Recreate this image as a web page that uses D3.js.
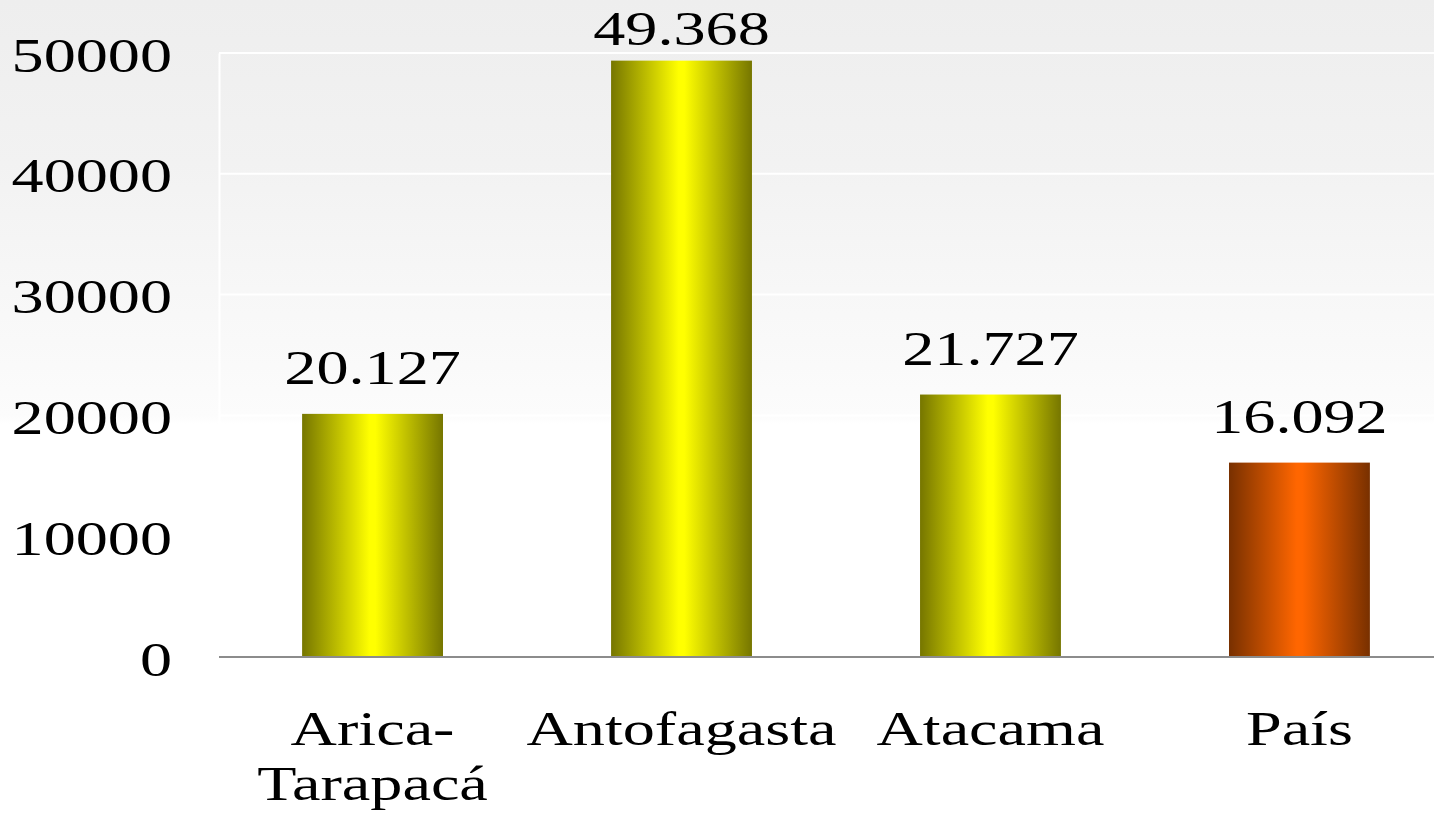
<!DOCTYPE html>
<html>
<head>
<meta charset="utf-8">
<script src="https://cdn.jsdelivr.net/npm/d3@7"></script>
<style>
  body { margin: 0; background: #fff; }
  text { font-family: "Liberation Serif", "Times New Roman", serif; fill: #000; }
</style>
</head>
<body>
<div id="chart"></div>
<script>
var categories = ['Arica-Tarapacá', 'Antofagasta', 'Atacama', 'País'];
var categoryLines = [['Arica-', 'Tarapacá'], ['Antofagasta'], ['Atacama'], ['País']];
var values = [20127, 49368, 21727, 16092];
var yTicks = [0, 10000, 20000, 30000, 40000, 50000];

var W = 1434, H = 816;
var plotLeft = 219, plotTop = 53, plotBottom = 657;
var sx = 1.31, fontSize = 49;

var svg = d3.select('#chart').append('svg')
    .attr('width', W)
    .attr('height', H);

var defs = svg.append('defs');

var bg = defs.append('linearGradient').attr('id', 'bg')
    .attr('x1', 0).attr('y1', 0).attr('x2', 0).attr('y2', 1);
bg.append('stop').attr('offset', '0%').attr('stop-color', '#eeeeee');
bg.append('stop').attr('offset', '20%').attr('stop-color', '#f2f2f2');
bg.append('stop').attr('offset', '51%').attr('stop-color', '#fcfcfc');
bg.append('stop').attr('offset', '52%').attr('stop-color', '#ffffff');

function barGrad(id, edge, mid) {
  var g = defs.append('linearGradient').attr('id', id)
      .attr('x1', 0).attr('y1', 0).attr('x2', 1).attr('y2', 0);
  g.append('stop').attr('offset', '0%').attr('stop-color', edge);
  g.append('stop').attr('offset', '48%').attr('stop-color', mid);
  g.append('stop').attr('offset', '52%').attr('stop-color', mid);
  g.append('stop').attr('offset', '100%').attr('stop-color', edge);
}
barGrad('gYellow', '#767600', '#ffff00');
barGrad('gOrange', '#783000', '#ff6600');

svg.append('rect')
    .attr('width', W).attr('height', H)
    .attr('fill', 'url(#bg)');

var x = d3.scaleBand()
    .domain(categories)
    .range([plotLeft, 1453])
    .paddingInner(0.544)
    .paddingOuter(0.269);

var y = d3.scaleLinear()
    .domain([0, 50000])
    .range([plotBottom, plotTop]);

// gridlines
svg.append('g')
    .selectAll('line')
    .data(yTicks.slice(1))
    .enter()
    .append('line')
      .attr('x1', plotLeft).attr('x2', W)
      .attr('y1', function(d) { return y(d); })
      .attr('y2', function(d) { return y(d); })
      .attr('stroke', '#ffffff')
      .attr('stroke-width', 2);

// y axis
var yAxis = svg.append('g')
    .attr('transform', 'translate(' + plotLeft + ',0)')
    .call(d3.axisLeft(y).tickValues(yTicks).tickSize(0).tickFormat(d3.format('d')));
yAxis.select('.domain').attr('stroke', '#ffffff').attr('stroke-width', 2);
yAxis.selectAll('text')
    .attr('x', -47 / sx)
    .attr('dy', null)
    .attr('y', 18)
    .attr('transform', 'scale(' + sx + ',1)')
    .style('font-size', fontSize + 'px')
    .style('font-family', '"Liberation Serif", serif')
    .attr('fill', '#000');

// bars
svg.selectAll('.bar')
    .data(values)
    .enter()
    .append('rect')
      .attr('class', 'bar')
      .attr('x', function(d, i) { return x(categories[i]); })
      .attr('y', function(d) { return y(d); })
      .attr('width', x.bandwidth())
      .attr('height', function(d) { return plotBottom - y(d); })
      .attr('fill', function(d, i) { return i === 3 ? 'url(#gOrange)' : 'url(#gYellow)'; });

// baseline
svg.append('line')
    .attr('x1', plotLeft).attr('x2', W)
    .attr('y1', plotBottom).attr('y2', plotBottom)
    .attr('stroke', '#8c8c8c')
    .attr('stroke-width', 2);

// value labels
var fmt = d3.formatLocale({ decimal: ',', thousands: '.', grouping: [3], currency: ['$', ''] }).format(',d');
svg.selectAll('.val')
    .data(values)
    .enter()
    .append('text')
      .attr('class', 'val')
      .attr('transform', function(d, i) {
        var cx = x(categories[i]) + x.bandwidth() / 2;
        var by = Math.max(y(d) - 30, 45);
        return 'translate(' + cx + ',' + by + ') scale(' + sx + ',1)';
      })
      .attr('text-anchor', 'middle')
      .style('font-size', fontSize + 'px')
      .text(function(d) { return fmt(d); });

// category labels
var cat = svg.selectAll('.cat')
    .data(categoryLines)
    .enter()
    .append('text')
      .attr('class', 'cat')
      .attr('transform', function(d, i) {
        var cx = x(categories[i]) + x.bandwidth() / 2;
        return 'translate(' + cx + ',745) scale(' + sx + ',1)';
      })
      .attr('text-anchor', 'middle')
      .style('font-size', fontSize + 'px');
cat.selectAll('tspan')
    .data(function(d) { return d; })
    .enter()
    .append('tspan')
      .attr('x', 0)
      .attr('y', function(d, j) { return j * 55; })
      .text(function(d) { return d; });
</script>
</body>
</html>
